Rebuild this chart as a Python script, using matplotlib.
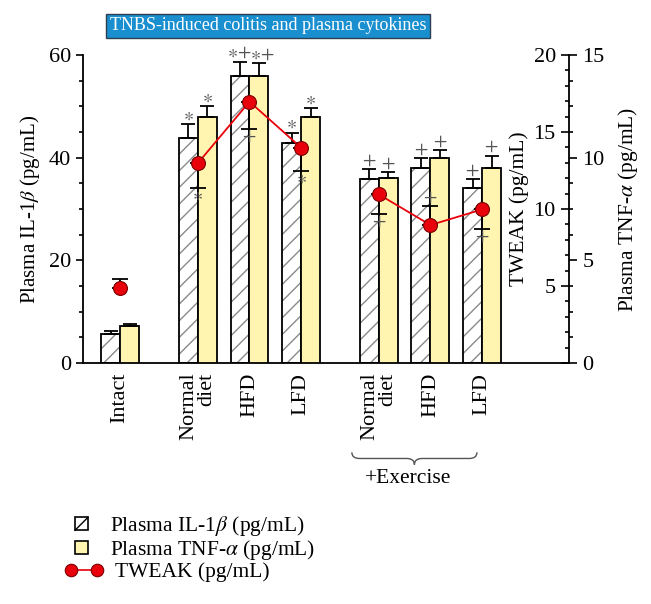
import numpy as np
import matplotlib
matplotlib.use('Agg')
import matplotlib.pyplot as plt
from matplotlib.patches import Patch, Rectangle, PathPatch
from matplotlib.lines import Line2D
from matplotlib.path import Path
import matplotlib.transforms as mtransforms
from matplotlib.ticker import MultipleLocator

plt.rcParams['font.family'] = ['Liberation Serif', 'DejaVu Serif']
plt.rcParams['mathtext.fontset'] = 'stix'
plt.rcParams['hatch.linewidth'] = 1.0
plt.rcParams['hatch.color'] = '#8a8a8a'

# data
groups = ['Intact', 'Normal\ndiet', 'HFD', 'LFD', 'Normal\ndiet', 'HFD', 'LFD']
xpos = [0, 1.5, 2.5, 3.5, 5, 6, 7]
il1b = [5.6, 43.9, 55.9, 42.9, 35.9, 37.9, 34.0]
il1b_err = [0.7, 2.7, 2.8, 2.0, 1.9, 2.0, 1.8]
tnf = [1.8, 12.0, 14.0, 12.0, 9.0, 10.0, 9.5]
tnf_err = [0.1, 0.5, 0.6, 0.4, 0.3, 0.35, 0.6]
tweak = [4.85, 12.97, 16.97, 13.98, 10.95, 8.96, 9.97]
tweak_err = [0.6, 1.6, 1.8, 1.5, 1.3, 1.25, 1.3]
tweak_err_up = [True, False, False, False, False, True, False]
il1b_sig = ['', '*', '*+', '*', '+', '+', '+']
tnf_sig = ['', '*', '*+', '*', '+', '+', '+']
tweak_sig = ['', '*', '+', '*', '+', '+', '+']

sym = {'*': r'$\ast$', '+': r'$+$', '*+': r'$\ast{+}$'}

x = np.array(xpos, dtype=float)
w = 0.367
yellow = '#fff5b0'
red = '#e8000b'
sigc = '#555555'

fig = plt.figure(figsize=(6.51, 6.04), dpi=100)
ax = fig.add_axes([83/651, 1-363/604, (569-83)/651, 308/604])
ax2 = ax.twinx()   # TNF-alpha, right side
ax3 = ax.twinx()   # TWEAK, on the right spine but labelled inward


def mark(a, xi, yi, s, up=True, dx=0):
    a.annotate(sym[s], (xi, yi), xytext=(dx, 8 if up else -8), textcoords='offset pixels',
               ha='center', va='center', fontsize=14, color=sigc)


# IL-1b bars: hatch layer + outline layer
ax.bar(x - w/2, il1b, w, color='white', edgecolor='#8a8a8a', hatch='//', lw=0, zorder=2)
ax.bar(x - w/2, il1b, w, fill=False, edgecolor='black', lw=1.3, zorder=3)
ax.errorbar(x - w/2, il1b, yerr=[np.zeros(7), il1b_err], fmt='none', ecolor='black',
            elinewidth=1.3, capsize=5, capthick=1.3, zorder=3)
ax.set_xlim(-0.72, 8.68)
ax.set_ylim(0, 60)
ax.set_yticks([0, 20, 40, 60])
ax.yaxis.set_minor_locator(MultipleLocator(5))
ax.tick_params(axis='y', which='major', length=5, width=1.2, labelsize=16, direction='out')
ax.tick_params(axis='y', which='minor', length=3, width=1.2, direction='out')
ax.tick_params(axis='x', length=0, pad=7, labelsize=16)
ax.set_xticks(x)
ax.set_xticklabels(groups, rotation=90, va='top', ha='center', multialignment='right',
                   linespacing=0.95)
ax.set_ylabel(r'Plasma IL-1$\beta$ (pg/mL)', fontsize=15, labelpad=5)
for s in ['top', 'right']:
    ax.spines[s].set_visible(False)
ax.spines['left'].set_linewidth(1.3)
ax.spines['bottom'].set_linewidth(1.3)
for xi, v, e, s in zip(x - w/2, il1b, il1b_err, il1b_sig):
    if s:
        mark(ax, xi, v + e, s, dx=-1 if s == '*+' else 0)

# TNF-alpha bars
ax2.bar(x + w/2, tnf, w, color=yellow, edgecolor='black', lw=1.3, zorder=2)
ax2.errorbar(x + w/2, tnf, yerr=[np.zeros(7), tnf_err], fmt='none', ecolor='black',
             elinewidth=1.3, capsize=5, capthick=1.3, zorder=3)
ax2.set_ylim(0, 15)
ax2.set_yticks([0, 5, 10, 15])
ax2.yaxis.set_minor_locator(MultipleLocator(1.25))
ax2.tick_params(axis='y', which='major', length=6, width=1.2, labelsize=16, direction='out')
ax2.tick_params(axis='y', which='minor', length=3, width=1.2, direction='out')
ax2.set_ylabel(r'Plasma TNF-$\alpha$ (pg/mL)', fontsize=15.5, labelpad=8)
for s in ['top', 'left', 'bottom']:
    ax2.spines[s].set_visible(False)
ax2.spines['right'].set_linewidth(1.3)
for xi, v, e, s in zip(x + w/2, tnf, tnf_err, tnf_sig):
    if s:
        mark(ax2, xi, v + e, s, dx=3 if s == '*+' else 0)

# TWEAK line and points
ax3.set_ylim(0, 20)
ax3.yaxis.tick_left()
ax3.yaxis.set_label_position('left')
ax3.spines['left'].set_position(('axes', 1.0))
for s in ['top', 'right', 'bottom', 'left']:
    ax3.spines[s].set_visible(False)
ax3.set_yticks([0, 5, 10, 15, 20])
ax3.set_yticklabels(['', '5', '10', '15', '20'])
ax3.yaxis.set_minor_locator(MultipleLocator(1))
ax3.tick_params(axis='y', which='major', length=6, width=1.2, labelsize=16, direction='out')
ax3.tick_params(axis='y', which='minor', length=3, width=1.2, direction='out')
ax3.set_ylabel('TWEAK (pg/mL)', fontsize=15.5, labelpad=3)
for idx in [[0], [1, 2, 3], [4, 5, 6]]:
    ax3.plot(x[idx], np.array(tweak)[idx], color=red, lw=1.3, marker='o', ms=10,
             mfc=red, mec='#7a0000', mew=0.8, zorder=5)
for xi, v, e, up, s in zip(x, tweak, tweak_err, tweak_err_up, tweak_sig):
    yerr = [[0], [e]] if up else [[e], [0]]
    ax3.errorbar([xi], [v], yerr=yerr, fmt='none', ecolor='black', elinewidth=1.3,
                 capsize=6, capthick=1.3, zorder=4)
    if s:
        mark(ax3, xi, v + e if up else v - e, s, up)

# brace and +Exercise
trans = mtransforms.blended_transform_factory(ax.transData, ax.transAxes)
x0, x1 = 4.48, 6.9
xm = (x0 + x1) / 2
y0, y1, y2 = -0.29, -0.31, -0.33
verts = [(x0, y0), (x0, y1), (x0 + 0.15, y1), (xm - 0.15, y1), (xm, y1), (xm, y2),
         (xm, y1), (xm + 0.15, y1), (x1 - 0.15, y1), (x1, y1), (x1, y0)]
codes = [Path.MOVETO, Path.CURVE3, Path.CURVE3, Path.LINETO, Path.CURVE3, Path.CURVE3,
         Path.CURVE3, Path.CURVE3, Path.LINETO, Path.CURVE3, Path.CURVE3]
ax.add_patch(PathPatch(Path(verts, codes), transform=trans, fill=False, ec='#555555',
                       lw=1.0, clip_on=False))
ax.text(5.57, -0.345, '+Exercise', transform=trans, ha='center', va='top', fontsize=15.5)

# title box
fig.text(268/651, 1-26/604, 'TNBS-induced colitis and plasma cytokines', ha='center',
         va='center', fontsize=13, color='white',
         bbox=dict(boxstyle='square,pad=0.2', fc='#1a8fd0', ec='#2d3e50', lw=1))


class SquareHandler:
    # small square legend key, optionally with one diagonal stroke
    def __init__(self, diag):
        self.diag = diag

    def legend_artist(self, legend, orig_handle, fontsize, handlebox):
        xd, yd = handlebox.xdescent, handlebox.ydescent
        wd, ht = handlebox.width, handlebox.height
        s = ht * 0.85
        left = wd - s - 11 - xd
        bot = -yd + (ht - s) / 2
        r = Rectangle((left, bot), s, s, facecolor=orig_handle.get_facecolor(),
                      edgecolor='black', lw=1.2)
        handlebox.add_artist(r)
        if self.diag:
            handlebox.add_artist(Line2D([left, left + s], [bot, bot + s], color='black', lw=1.0))
        return r


h1 = Patch(facecolor='white', edgecolor='black')
h2 = Patch(facecolor=yellow, edgecolor='black')
h3 = Line2D([], [], color=red, lw=1.2, marker='o', ms=9, mfc=red, mec='#7a0000', mew=0.8)
fig.legend([h1, h2, h3],
           [r'Plasma IL-1$\beta$ (pg/mL)', r'Plasma TNF-$\alpha$ (pg/mL)', ' TWEAK (pg/mL)'],
           loc='upper left', bbox_to_anchor=(45/651, 1-495/604), frameon=False,
           fontsize=15.5, numpoints=2, handlelength=1.8, handletextpad=0.3,
           labelspacing=0.0,
           handler_map={h1: SquareHandler(True), h2: SquareHandler(False)})

fig.savefig('out.png', dpi=100)
